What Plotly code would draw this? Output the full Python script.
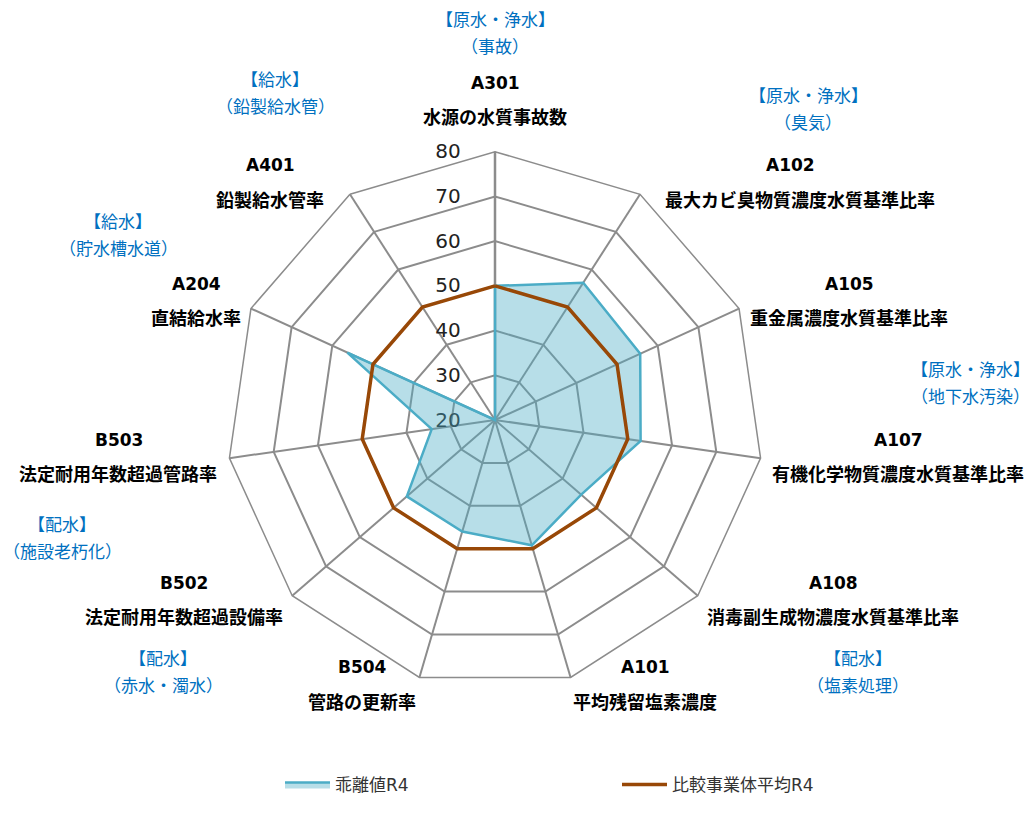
import plotly.graph_objects as go

# ---------------- data ----------------
codes = ["A301", "A102", "A105", "A107", "A108", "A101",
         "B504", "B502", "B503", "A204", "A401"]
names = ["水源の水質事故数", "最大カビ臭物質濃度水質基準比率", "重金属濃度水質基準比率",
         "有機化学物質濃度水質基準比率", "消毒副生成物濃度水質基準比率", "平均残留塩素濃度",
         "管路の更新率", "法定耐用年数超過設備率", "法定耐用年数超過管路率",
         "直結給水率", "鉛製給水管率"]
deviation_r4 = [50.0, 56.5, 55.7, 52.9, 45.5, 49.2, 46.0, 46.1, 34.3, 56.3, 20.0]
average_r4 = [50, 50, 50, 50, 50, 50, 50, 50, 50, 50, 50]
series_names = ["乖離値R4", "比較事業体平均R4"]
radial_ticks = [20, 30, 40, 50, 60, 70, 80]

group_line1 = ["【原水・浄水】", "【原水・浄水】", "【原水・浄水】", "【配水】",
               "【配水】", "【配水】", "【給水】", "【給水】"]
group_line2 = ["（事故）", "（臭気）", "（地下水汚染）", "（塩素処理）",
               "（赤水・濁水）", "（施設老朽化）", "（貯水槽水道）", "（鉛製給水管）"]

# ---------------- layout (pixel positions) ----------------
W, H = 1032, 813
code_pos = [(495, 83), (790, 165), (849, 284), (898, 440), (833, 583), (645, 667),
            (362, 667), (184, 583), (119, 440), (196, 284), (270, 165)]
name_pos = [(495, 117), (800, 200), (849, 318), (898, 474), (833, 617), (645, 702),
            (362, 702), (184, 617), (118, 474), (196, 318), (270, 200)]
group_pos = [(495, 18), (808, 95), (970, 368), (858, 657),
             (163, 657), (62, 523), (118, 220), (275, 78)]

FONT = "Verdana, 'DejaVu Sans', 'Noto Sans CJK JP', sans-serif"
CJK = "'Noto Sans CJK JP', sans-serif"
GRID = "#8c8c8c"

cats = [f"{c} {n}" for c, n in zip(codes, names)]

fig = go.Figure()
fig.add_trace(go.Scatterpolar(
    r=deviation_r4 + deviation_r4[:1], theta=cats + cats[:1],
    name=series_names[0], mode="lines", fill="toself",
    fillcolor="rgba(75,172,198,0.40)",
    line=dict(color="#4BACC6", width=2.5),
))
fig.add_trace(go.Scatterpolar(
    r=average_r4 + average_r4[:1], theta=cats + cats[:1],
    name=series_names[1], mode="lines",
    line=dict(color="#984807", width=3.5),
))

def px(x, y):
    return x / W, 1 - y / H

annotations = []
for c, n, p1, p2 in zip(codes, names, code_pos, name_pos):
    x, y = px(*p1)
    annotations.append(dict(x=x, y=y, xref="paper", yref="paper", text=f"<b>{c}</b>",
                            showarrow=False, xanchor="center", yanchor="middle",
                            font=dict(family=FONT, size=17, color="#000000")))
    x, y = px(*p2)
    annotations.append(dict(x=x, y=y, xref="paper", yref="paper", text=f"<b>{n}</b>",
                            showarrow=False, xanchor="center", yanchor="middle",
                            font=dict(family=FONT, size=18, color="#000000")))
for l1, l2, (gx, gy) in zip(group_line1, group_line2, group_pos):
    x, y = px(gx, gy)
    annotations.append(dict(x=x, y=y, xref="paper", yref="paper", text=l1,
                            showarrow=False, xanchor="center", yanchor="middle",
                            font=dict(family=CJK, size=17, color="#0070C0")))
    x, y = px(gx, gy + 27)
    annotations.append(dict(x=x, y=y, xref="paper", yref="paper", text=l2,
                            showarrow=False, xanchor="center", yanchor="middle",
                            font=dict(family=CJK, size=17, color="#0070C0")))

cx, cy, R = 495, 420, 268.3
fig.update_layout(
    width=W, height=H,
    margin=dict(l=0, r=0, t=0, b=0),
    paper_bgcolor="white",
    font=dict(family=FONT),
    polar=dict(
        domain=dict(x=[(cx - R) / W, (cx + R) / W],
                    y=[1 - (cy + R) / H, 1 - (cy - R) / H]),
        bgcolor="white",
        gridshape="linear",
        angularaxis=dict(
            direction="clockwise", rotation=90,
            showticklabels=False, ticks="",
            showgrid=True, gridcolor=GRID, gridwidth=1.5,
            showline=True, linecolor=GRID, linewidth=1.5,
        ),
        radialaxis=dict(
            range=[20, 80], tickvals=radial_ticks, ticktext=[str(v) for v in radial_ticks],
            angle=90, side="counterclockwise", tickangle=90,
            ticks="outside", ticklen=26, tickcolor="rgba(0,0,0,0)",
            tickfont=dict(family=FONT, size=20, color="#222222"),
            showgrid=True, gridcolor=GRID, gridwidth=1.5,
            showline=True, linecolor=GRID, linewidth=2.5,
            layer="below traces",
        ),
    ),
    showlegend=True,
    legend=dict(orientation="h", x=280 / W, y=1 - 785 / H, xanchor="left", yanchor="middle",
                entrywidth=277, entrywidthmode="pixels", itemwidth=45,
                font=dict(family=FONT, size=17, color="#333333")),
    annotations=annotations,
)

fig.write_html("out.html",
               config={"displayModeBar": False},
               post_script="document.body.style.margin='0';document.body.style.overflow='hidden';")
